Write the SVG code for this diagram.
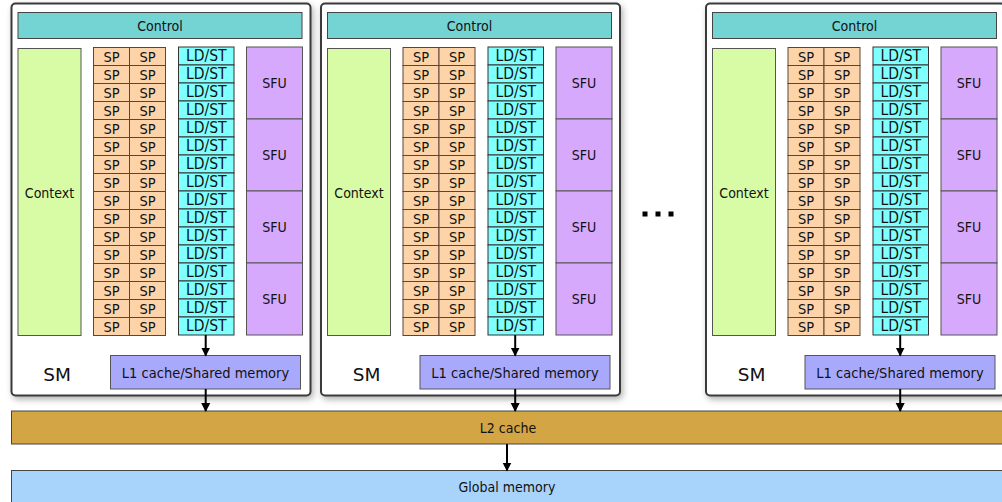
<svg xmlns="http://www.w3.org/2000/svg" width="1002" height="502" viewBox="0 0 1002 502">
<style>
text{font-family:"DejaVu Sans Condensed","DejaVu Sans",sans-serif;font-stretch:condensed;font-size:14px;fill:#111;text-anchor:middle;dominant-baseline:central}
.sm{fill:#fff;stroke:#3a3a3a;stroke-width:2;filter:url(#sh)}
.ctl{fill:#74d3d3;stroke:#444}
.ctx{fill:#d8fba6;stroke:#555}
.sp{fill:#fdd4aa;stroke:#5a4636}
.ld{fill:#80ffff;stroke:#333}
.sfu{fill:#d7a9fc;stroke:#555}
.l1{fill:#a9a9fc;stroke:#555}
.l2{fill:#d4a544;stroke:#444}
.gm{fill:#a8d4fb;stroke:#444}
.sp-t text{font-size:14.5px}
.ld-t text{font-size:15.5px}
.l1-t{font-size:14.5px}
.smlabel{font-size:18.5px;font-stretch:normal;font-family:"DejaVu Sans",sans-serif}
.arr{stroke:#000;stroke-width:2;fill:none;marker-end:url(#ah)}
</style>
<defs>
<filter id="sh" x="-10%" y="-10%" width="120%" height="120%"><feDropShadow dx="2" dy="3" stdDeviation="3" flood-color="#000" flood-opacity="0.3"/></filter>
<marker id="ah" markerUnits="userSpaceOnUse" markerWidth="9" markerHeight="10" refX="8" refY="4.5" orient="auto"><path d="M0,0 L9,4.5 L0,9 z" fill="#000"/></marker>
</defs>
<rect width="1002" height="502" fill="#fff"/>
<g id="l2cache"><rect class="l2" x="11.5" y="411" width="1000" height="33"/><text x="508" y="428">L2 cache</text></g>
<g id="globalmem"><rect class="gm" x="11.5" y="470.5" width="1000" height="40"/><text x="507" y="487">Global memory</text></g>
<g id="sm1">
<rect class="sm" x="11.5" y="3.5" width="299" height="392" rx="4"/>
<rect class="ctl" x="18" y="12.5" width="284" height="26"/><text x="160" y="25.5">Control</text>
<rect class="ctx" x="18" y="48.5" width="63" height="287"/><text x="49.5" y="193">Context</text>
<g class="sp">
<rect x="93.5" y="47.5" width="36" height="18"/><rect x="129.5" y="47.5" width="36" height="18"/>
<rect x="93.5" y="65.5" width="36" height="18"/><rect x="129.5" y="65.5" width="36" height="18"/>
<rect x="93.5" y="83.5" width="36" height="18"/><rect x="129.5" y="83.5" width="36" height="18"/>
<rect x="93.5" y="101.5" width="36" height="18"/><rect x="129.5" y="101.5" width="36" height="18"/>
<rect x="93.5" y="119.5" width="36" height="18"/><rect x="129.5" y="119.5" width="36" height="18"/>
<rect x="93.5" y="137.5" width="36" height="18"/><rect x="129.5" y="137.5" width="36" height="18"/>
<rect x="93.5" y="155.5" width="36" height="18"/><rect x="129.5" y="155.5" width="36" height="18"/>
<rect x="93.5" y="173.5" width="36" height="18"/><rect x="129.5" y="173.5" width="36" height="18"/>
<rect x="93.5" y="191.5" width="36" height="18"/><rect x="129.5" y="191.5" width="36" height="18"/>
<rect x="93.5" y="209.5" width="36" height="18"/><rect x="129.5" y="209.5" width="36" height="18"/>
<rect x="93.5" y="227.5" width="36" height="18"/><rect x="129.5" y="227.5" width="36" height="18"/>
<rect x="93.5" y="245.5" width="36" height="18"/><rect x="129.5" y="245.5" width="36" height="18"/>
<rect x="93.5" y="263.5" width="36" height="18"/><rect x="129.5" y="263.5" width="36" height="18"/>
<rect x="93.5" y="281.5" width="36" height="18"/><rect x="129.5" y="281.5" width="36" height="18"/>
<rect x="93.5" y="299.5" width="36" height="18"/><rect x="129.5" y="299.5" width="36" height="18"/>
<rect x="93.5" y="317.5" width="36" height="18"/><rect x="129.5" y="317.5" width="36" height="18"/>
</g>
<g class="sp-t">
<text x="111.5" y="56.5">SP</text><text x="147.5" y="56.5">SP</text>
<text x="111.5" y="74.5">SP</text><text x="147.5" y="74.5">SP</text>
<text x="111.5" y="92.5">SP</text><text x="147.5" y="92.5">SP</text>
<text x="111.5" y="110.5">SP</text><text x="147.5" y="110.5">SP</text>
<text x="111.5" y="128.5">SP</text><text x="147.5" y="128.5">SP</text>
<text x="111.5" y="146.5">SP</text><text x="147.5" y="146.5">SP</text>
<text x="111.5" y="164.5">SP</text><text x="147.5" y="164.5">SP</text>
<text x="111.5" y="182.5">SP</text><text x="147.5" y="182.5">SP</text>
<text x="111.5" y="200.5">SP</text><text x="147.5" y="200.5">SP</text>
<text x="111.5" y="218.5">SP</text><text x="147.5" y="218.5">SP</text>
<text x="111.5" y="236.5">SP</text><text x="147.5" y="236.5">SP</text>
<text x="111.5" y="254.5">SP</text><text x="147.5" y="254.5">SP</text>
<text x="111.5" y="272.5">SP</text><text x="147.5" y="272.5">SP</text>
<text x="111.5" y="290.5">SP</text><text x="147.5" y="290.5">SP</text>
<text x="111.5" y="308.5">SP</text><text x="147.5" y="308.5">SP</text>
<text x="111.5" y="326.5">SP</text><text x="147.5" y="326.5">SP</text>
</g>
<g class="ld">
<rect x="178.5" y="47" width="55.5" height="18"/><rect x="178.5" y="65" width="55.5" height="18"/>
<rect x="178.5" y="83" width="55.5" height="18"/><rect x="178.5" y="101" width="55.5" height="18"/>
<rect x="178.5" y="119" width="55.5" height="18"/><rect x="178.5" y="137" width="55.5" height="18"/>
<rect x="178.5" y="155" width="55.5" height="18"/><rect x="178.5" y="173" width="55.5" height="18"/>
<rect x="178.5" y="191" width="55.5" height="18"/><rect x="178.5" y="209" width="55.5" height="18"/>
<rect x="178.5" y="227" width="55.5" height="18"/><rect x="178.5" y="245" width="55.5" height="18"/>
<rect x="178.5" y="263" width="55.5" height="18"/><rect x="178.5" y="281" width="55.5" height="18"/>
<rect x="178.5" y="299" width="55.5" height="18"/><rect x="178.5" y="317" width="55.5" height="18"/>
</g>
<g class="ld-t">
<text x="206.25" y="56">LD/ST</text><text x="206.25" y="74">LD/ST</text>
<text x="206.25" y="92">LD/ST</text><text x="206.25" y="110">LD/ST</text>
<text x="206.25" y="128">LD/ST</text><text x="206.25" y="146">LD/ST</text>
<text x="206.25" y="164">LD/ST</text><text x="206.25" y="182">LD/ST</text>
<text x="206.25" y="200">LD/ST</text><text x="206.25" y="218">LD/ST</text>
<text x="206.25" y="236">LD/ST</text><text x="206.25" y="254">LD/ST</text>
<text x="206.25" y="272">LD/ST</text><text x="206.25" y="290">LD/ST</text>
<text x="206.25" y="308">LD/ST</text><text x="206.25" y="326">LD/ST</text>
</g>
<g class="sfu">
<rect x="246.5" y="47" width="56" height="72"/><rect x="246.5" y="119" width="56" height="72"/>
<rect x="246.5" y="191" width="56" height="72"/><rect x="246.5" y="263" width="56" height="72"/>
</g>
<text x="274.5" y="83">SFU</text><text x="274.5" y="155">SFU</text><text x="274.5" y="227">SFU</text><text x="274.5" y="299">SFU</text>
<text class="smlabel" x="57" y="374">SM</text>
<rect class="l1" x="110.5" y="355.5" width="190" height="33.5"/><text class="l1-t" x="205.5" y="372.5">L1 cache/Shared memory</text>
</g>
<g id="sm2" transform="translate(309.5,0)">
<rect class="sm" x="11.5" y="3.5" width="299" height="392" rx="4"/>
<rect class="ctl" x="18" y="12.5" width="284" height="26"/><text x="160" y="25.5">Control</text>
<rect class="ctx" x="18" y="48.5" width="63" height="287"/><text x="49.5" y="193">Context</text>
<g class="sp">
<rect x="93.5" y="47.5" width="36" height="18"/><rect x="129.5" y="47.5" width="36" height="18"/>
<rect x="93.5" y="65.5" width="36" height="18"/><rect x="129.5" y="65.5" width="36" height="18"/>
<rect x="93.5" y="83.5" width="36" height="18"/><rect x="129.5" y="83.5" width="36" height="18"/>
<rect x="93.5" y="101.5" width="36" height="18"/><rect x="129.5" y="101.5" width="36" height="18"/>
<rect x="93.5" y="119.5" width="36" height="18"/><rect x="129.5" y="119.5" width="36" height="18"/>
<rect x="93.5" y="137.5" width="36" height="18"/><rect x="129.5" y="137.5" width="36" height="18"/>
<rect x="93.5" y="155.5" width="36" height="18"/><rect x="129.5" y="155.5" width="36" height="18"/>
<rect x="93.5" y="173.5" width="36" height="18"/><rect x="129.5" y="173.5" width="36" height="18"/>
<rect x="93.5" y="191.5" width="36" height="18"/><rect x="129.5" y="191.5" width="36" height="18"/>
<rect x="93.5" y="209.5" width="36" height="18"/><rect x="129.5" y="209.5" width="36" height="18"/>
<rect x="93.5" y="227.5" width="36" height="18"/><rect x="129.5" y="227.5" width="36" height="18"/>
<rect x="93.5" y="245.5" width="36" height="18"/><rect x="129.5" y="245.5" width="36" height="18"/>
<rect x="93.5" y="263.5" width="36" height="18"/><rect x="129.5" y="263.5" width="36" height="18"/>
<rect x="93.5" y="281.5" width="36" height="18"/><rect x="129.5" y="281.5" width="36" height="18"/>
<rect x="93.5" y="299.5" width="36" height="18"/><rect x="129.5" y="299.5" width="36" height="18"/>
<rect x="93.5" y="317.5" width="36" height="18"/><rect x="129.5" y="317.5" width="36" height="18"/>
</g>
<g class="sp-t">
<text x="111.5" y="56.5">SP</text><text x="147.5" y="56.5">SP</text>
<text x="111.5" y="74.5">SP</text><text x="147.5" y="74.5">SP</text>
<text x="111.5" y="92.5">SP</text><text x="147.5" y="92.5">SP</text>
<text x="111.5" y="110.5">SP</text><text x="147.5" y="110.5">SP</text>
<text x="111.5" y="128.5">SP</text><text x="147.5" y="128.5">SP</text>
<text x="111.5" y="146.5">SP</text><text x="147.5" y="146.5">SP</text>
<text x="111.5" y="164.5">SP</text><text x="147.5" y="164.5">SP</text>
<text x="111.5" y="182.5">SP</text><text x="147.5" y="182.5">SP</text>
<text x="111.5" y="200.5">SP</text><text x="147.5" y="200.5">SP</text>
<text x="111.5" y="218.5">SP</text><text x="147.5" y="218.5">SP</text>
<text x="111.5" y="236.5">SP</text><text x="147.5" y="236.5">SP</text>
<text x="111.5" y="254.5">SP</text><text x="147.5" y="254.5">SP</text>
<text x="111.5" y="272.5">SP</text><text x="147.5" y="272.5">SP</text>
<text x="111.5" y="290.5">SP</text><text x="147.5" y="290.5">SP</text>
<text x="111.5" y="308.5">SP</text><text x="147.5" y="308.5">SP</text>
<text x="111.5" y="326.5">SP</text><text x="147.5" y="326.5">SP</text>
</g>
<g class="ld">
<rect x="178.5" y="47" width="55.5" height="18"/><rect x="178.5" y="65" width="55.5" height="18"/>
<rect x="178.5" y="83" width="55.5" height="18"/><rect x="178.5" y="101" width="55.5" height="18"/>
<rect x="178.5" y="119" width="55.5" height="18"/><rect x="178.5" y="137" width="55.5" height="18"/>
<rect x="178.5" y="155" width="55.5" height="18"/><rect x="178.5" y="173" width="55.5" height="18"/>
<rect x="178.5" y="191" width="55.5" height="18"/><rect x="178.5" y="209" width="55.5" height="18"/>
<rect x="178.5" y="227" width="55.5" height="18"/><rect x="178.5" y="245" width="55.5" height="18"/>
<rect x="178.5" y="263" width="55.5" height="18"/><rect x="178.5" y="281" width="55.5" height="18"/>
<rect x="178.5" y="299" width="55.5" height="18"/><rect x="178.5" y="317" width="55.5" height="18"/>
</g>
<g class="ld-t">
<text x="206.25" y="56">LD/ST</text><text x="206.25" y="74">LD/ST</text>
<text x="206.25" y="92">LD/ST</text><text x="206.25" y="110">LD/ST</text>
<text x="206.25" y="128">LD/ST</text><text x="206.25" y="146">LD/ST</text>
<text x="206.25" y="164">LD/ST</text><text x="206.25" y="182">LD/ST</text>
<text x="206.25" y="200">LD/ST</text><text x="206.25" y="218">LD/ST</text>
<text x="206.25" y="236">LD/ST</text><text x="206.25" y="254">LD/ST</text>
<text x="206.25" y="272">LD/ST</text><text x="206.25" y="290">LD/ST</text>
<text x="206.25" y="308">LD/ST</text><text x="206.25" y="326">LD/ST</text>
</g>
<g class="sfu">
<rect x="246.5" y="47" width="56" height="72"/><rect x="246.5" y="119" width="56" height="72"/>
<rect x="246.5" y="191" width="56" height="72"/><rect x="246.5" y="263" width="56" height="72"/>
</g>
<text x="274.5" y="83">SFU</text><text x="274.5" y="155">SFU</text><text x="274.5" y="227">SFU</text><text x="274.5" y="299">SFU</text>
<text class="smlabel" x="57" y="374">SM</text>
<rect class="l1" x="110.5" y="355.5" width="190" height="33.5"/><text class="l1-t" x="205.5" y="372.5">L1 cache/Shared memory</text>
</g>
<g id="sm3" transform="translate(694.5,0)">
<rect class="sm" x="11.5" y="3.5" width="299" height="392" rx="4"/>
<rect class="ctl" x="18" y="12.5" width="284" height="26"/><text x="160" y="25.5">Control</text>
<rect class="ctx" x="18" y="48.5" width="63" height="287"/><text x="49.5" y="193">Context</text>
<g class="sp">
<rect x="93.5" y="47.5" width="36" height="18"/><rect x="129.5" y="47.5" width="36" height="18"/>
<rect x="93.5" y="65.5" width="36" height="18"/><rect x="129.5" y="65.5" width="36" height="18"/>
<rect x="93.5" y="83.5" width="36" height="18"/><rect x="129.5" y="83.5" width="36" height="18"/>
<rect x="93.5" y="101.5" width="36" height="18"/><rect x="129.5" y="101.5" width="36" height="18"/>
<rect x="93.5" y="119.5" width="36" height="18"/><rect x="129.5" y="119.5" width="36" height="18"/>
<rect x="93.5" y="137.5" width="36" height="18"/><rect x="129.5" y="137.5" width="36" height="18"/>
<rect x="93.5" y="155.5" width="36" height="18"/><rect x="129.5" y="155.5" width="36" height="18"/>
<rect x="93.5" y="173.5" width="36" height="18"/><rect x="129.5" y="173.5" width="36" height="18"/>
<rect x="93.5" y="191.5" width="36" height="18"/><rect x="129.5" y="191.5" width="36" height="18"/>
<rect x="93.5" y="209.5" width="36" height="18"/><rect x="129.5" y="209.5" width="36" height="18"/>
<rect x="93.5" y="227.5" width="36" height="18"/><rect x="129.5" y="227.5" width="36" height="18"/>
<rect x="93.5" y="245.5" width="36" height="18"/><rect x="129.5" y="245.5" width="36" height="18"/>
<rect x="93.5" y="263.5" width="36" height="18"/><rect x="129.5" y="263.5" width="36" height="18"/>
<rect x="93.5" y="281.5" width="36" height="18"/><rect x="129.5" y="281.5" width="36" height="18"/>
<rect x="93.5" y="299.5" width="36" height="18"/><rect x="129.5" y="299.5" width="36" height="18"/>
<rect x="93.5" y="317.5" width="36" height="18"/><rect x="129.5" y="317.5" width="36" height="18"/>
</g>
<g class="sp-t">
<text x="111.5" y="56.5">SP</text><text x="147.5" y="56.5">SP</text>
<text x="111.5" y="74.5">SP</text><text x="147.5" y="74.5">SP</text>
<text x="111.5" y="92.5">SP</text><text x="147.5" y="92.5">SP</text>
<text x="111.5" y="110.5">SP</text><text x="147.5" y="110.5">SP</text>
<text x="111.5" y="128.5">SP</text><text x="147.5" y="128.5">SP</text>
<text x="111.5" y="146.5">SP</text><text x="147.5" y="146.5">SP</text>
<text x="111.5" y="164.5">SP</text><text x="147.5" y="164.5">SP</text>
<text x="111.5" y="182.5">SP</text><text x="147.5" y="182.5">SP</text>
<text x="111.5" y="200.5">SP</text><text x="147.5" y="200.5">SP</text>
<text x="111.5" y="218.5">SP</text><text x="147.5" y="218.5">SP</text>
<text x="111.5" y="236.5">SP</text><text x="147.5" y="236.5">SP</text>
<text x="111.5" y="254.5">SP</text><text x="147.5" y="254.5">SP</text>
<text x="111.5" y="272.5">SP</text><text x="147.5" y="272.5">SP</text>
<text x="111.5" y="290.5">SP</text><text x="147.5" y="290.5">SP</text>
<text x="111.5" y="308.5">SP</text><text x="147.5" y="308.5">SP</text>
<text x="111.5" y="326.5">SP</text><text x="147.5" y="326.5">SP</text>
</g>
<g class="ld">
<rect x="178.5" y="47" width="55.5" height="18"/><rect x="178.5" y="65" width="55.5" height="18"/>
<rect x="178.5" y="83" width="55.5" height="18"/><rect x="178.5" y="101" width="55.5" height="18"/>
<rect x="178.5" y="119" width="55.5" height="18"/><rect x="178.5" y="137" width="55.5" height="18"/>
<rect x="178.5" y="155" width="55.5" height="18"/><rect x="178.5" y="173" width="55.5" height="18"/>
<rect x="178.5" y="191" width="55.5" height="18"/><rect x="178.5" y="209" width="55.5" height="18"/>
<rect x="178.5" y="227" width="55.5" height="18"/><rect x="178.5" y="245" width="55.5" height="18"/>
<rect x="178.5" y="263" width="55.5" height="18"/><rect x="178.5" y="281" width="55.5" height="18"/>
<rect x="178.5" y="299" width="55.5" height="18"/><rect x="178.5" y="317" width="55.5" height="18"/>
</g>
<g class="ld-t">
<text x="206.25" y="56">LD/ST</text><text x="206.25" y="74">LD/ST</text>
<text x="206.25" y="92">LD/ST</text><text x="206.25" y="110">LD/ST</text>
<text x="206.25" y="128">LD/ST</text><text x="206.25" y="146">LD/ST</text>
<text x="206.25" y="164">LD/ST</text><text x="206.25" y="182">LD/ST</text>
<text x="206.25" y="200">LD/ST</text><text x="206.25" y="218">LD/ST</text>
<text x="206.25" y="236">LD/ST</text><text x="206.25" y="254">LD/ST</text>
<text x="206.25" y="272">LD/ST</text><text x="206.25" y="290">LD/ST</text>
<text x="206.25" y="308">LD/ST</text><text x="206.25" y="326">LD/ST</text>
</g>
<g class="sfu">
<rect x="246.5" y="47" width="56" height="72"/><rect x="246.5" y="119" width="56" height="72"/>
<rect x="246.5" y="191" width="56" height="72"/><rect x="246.5" y="263" width="56" height="72"/>
</g>
<text x="274.5" y="83">SFU</text><text x="274.5" y="155">SFU</text><text x="274.5" y="227">SFU</text><text x="274.5" y="299">SFU</text>
<text class="smlabel" x="57" y="374">SM</text>
<rect class="l1" x="110.5" y="355.5" width="190" height="33.5"/><text class="l1-t" x="205.5" y="372.5">L1 cache/Shared memory</text>
</g>
<g id="ellipsis" fill="#000">
<rect x="642.5" y="211.5" width="5" height="5"/><rect x="655.5" y="211.5" width="5" height="5"/><rect x="668.5" y="211.5" width="5" height="5"/>
</g>
<g id="connectors">
<path class="arr" d="M205.7,335 V355.5"/>
<path class="arr" d="M205.7,389 V411"/>
<path class="arr" d="M515.2,335 V355.5"/>
<path class="arr" d="M515.2,389 V411"/>
<path class="arr" d="M900.2,335 V355.5"/>
<path class="arr" d="M900.2,389 V411"/>
<path class="arr" d="M507,444 V470.5"/>
</g>
</svg>
